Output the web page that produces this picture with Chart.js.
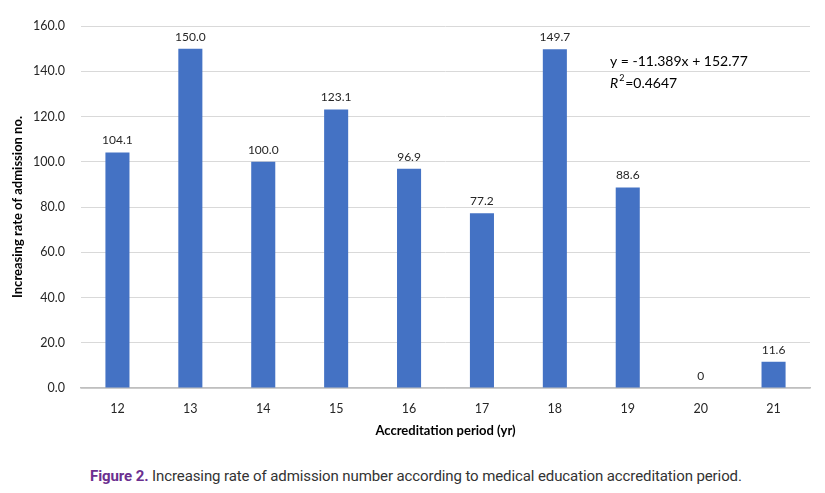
<!DOCTYPE html>
<html>
<head>
<meta charset="utf-8">
<script src="https://cdn.jsdelivr.net/npm/chart.js@4"></script>
<style>
  body { margin: 0; background: #fff; }
  #wrap { position: relative; width: 825px; height: 445px; }
  #caption {
    position: absolute; left: 90px; top: 467px;
    font-family: "Liberation Sans Narrow", "Roboto", sans-serif;
    font-size: 15px; letter-spacing: -0.1px; color: #333; white-space: nowrap;
  }
  #caption b { color: #6b2f8f; }
</style>
</head>
<body>
<div id="wrap"><canvas id="myChart" width="825" height="445"></canvas></div>
<div id="caption"><b>Figure 2.</b> Increasing rate of admission number according to medical education accreditation period.</div>
<script>
const periods = ['12', '13', '14', '15', '16', '17', '18', '19', '20', '21'];
const rates = [104.1, 150.0, 100.0, 123.1, 96.9, 77.2, 149.7, 88.6, 0, 11.6];
const equation = 'y = -11.389x + 152.77';
const rSquared = '0.4647';

const font = 'Lato, "Open Sans", sans-serif';

// value labels above bars + trend equation
const labels = {
  id: 'labels',
  afterDatasetsDraw(chart) {
    const c = chart.ctx;
    const meta = chart.getDatasetMeta(0);
    c.save();
    c.font = '12px ' + font;
    c.fillStyle = '#262626';
    c.textAlign = 'center';
    c.textBaseline = 'bottom';
    meta.data.forEach((bar, i) => {
      const v = rates[i];
      c.fillText(v === 0 ? '0' : v.toFixed(1), bar.x, bar.y - 6);
    });
    c.textAlign = 'left';
    c.textBaseline = 'middle';
    c.font = '14px ' + font;
    c.fillStyle = '#000';
    c.fillText(equation, 610, 61);
    c.font = 'italic 14px ' + font;
    c.fillText('R', 610, 83);
    const rw = c.measureText('R').width;
    c.font = '9px ' + font;
    c.fillText('2', 610 + rw + 1, 78);
    c.font = '14px ' + font;
    c.fillText('=' + rSquared, 610 + rw + 7, 83);
    c.restore();
  }
};

new Chart(document.getElementById('myChart'), {
  type: 'bar',
  data: {
    labels: periods,
    datasets: [{
      data: rates,
      backgroundColor: '#4472c4',
      barPercentage: 0.66,
      categoryPercentage: 0.5
    }]
  },
  options: {
    responsive: false,
    animation: false,
    layout: { padding: { top: 26, right: 15, bottom: 2, left: 0 } },
    plugins: { legend: { display: false }, tooltip: { enabled: false } },
    scales: {
      x: {
        grid: { display: false },
        border: { color: '#bfbfbf', width: 1.5 },
        ticks: { color: '#262626', font: { size: 12.5, family: font }, padding: 5 },
        title: { display: true, text: 'Accreditation period (yr)', color: '#000',
                 font: { size: 13, weight: 'bold', family: font }, padding: { top: 6 } },
        afterFit(s) { s.height = 55; }
      },
      y: {
        min: 0, max: 160,
        grid: { color: '#d9d9d9', drawTicks: false },
        border: { display: false },
        ticks: { stepSize: 20, color: '#262626', padding: 16,
                 font: { size: 12.5, family: font },
                 callback: v => v.toFixed(1) },
        title: { display: true, text: 'Increasing rate of admission no.', color: '#000',
                 font: { size: 13, weight: 'bold', family: font }, padding: { top: 10, bottom: 4 } },
        afterFit(s) { s.width = 81; }
      }
    }
  },
  plugins: [labels]
});
</script>
</body>
</html>
